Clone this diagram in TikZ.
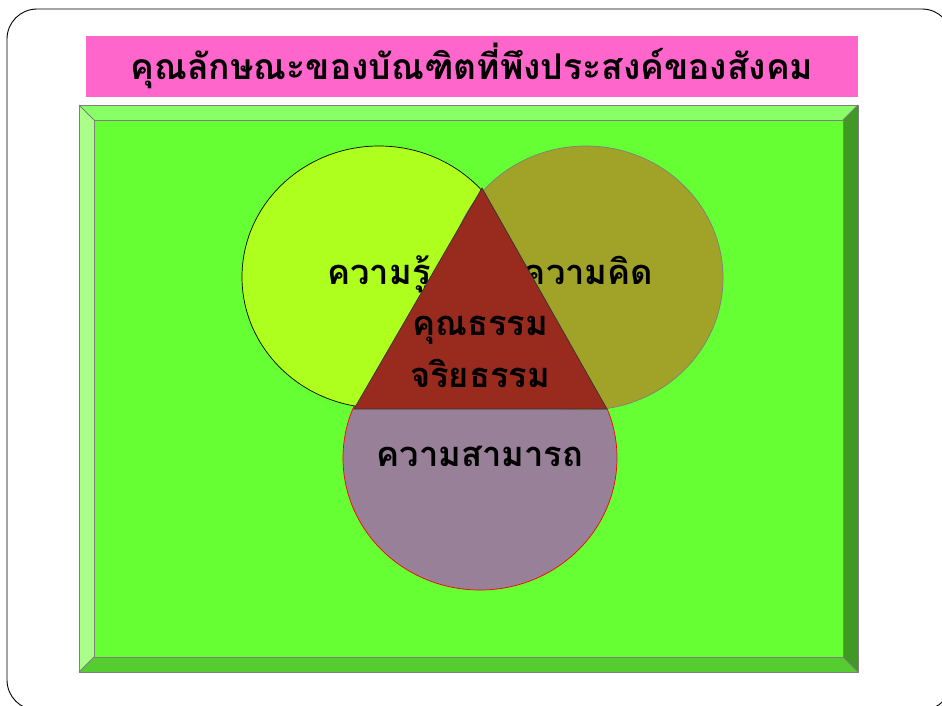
\documentclass[tikz,border=0pt]{standalone}
\usepackage{fontspec}
\newfontfamily\thaifont[Script=Thai]{Loma}
\definecolor{pinkbox}{HTML}{FF66CC}
\definecolor{face}{HTML}{66FF33}
\definecolor{bvtop}{HTML}{88FF66}
\definecolor{bvleft}{HTML}{AAFF88}
\definecolor{bvright}{HTML}{3F9922}
\definecolor{bvbottom}{HTML}{55CC2F}
\definecolor{cleft}{HTML}{AFFF1E}
\definecolor{cright}{HTML}{A0A328}
\definecolor{cbottom}{HTML}{998099}
\definecolor{tri}{HTML}{992B1E}
\definecolor{edgegray}{HTML}{7F7F7F}
\tikzset{
  bevel/.style={draw=edgegray, line width=0.9pt, line join=miter},
  lbl/.style={font=\thaifont\bfseries\fontsize{34.5}{38}\selectfont, text=black, anchor=base, inner sep=0pt},
  ttl/.style={font=\thaifont\bfseries\fontsize{35.5}{38}\selectfont, text=black, anchor=base, inner sep=0pt},
}
\begin{document}
\begin{tikzpicture}[x=1pt,y=-1pt]
\useasboundingbox (0,0) rectangle (942,705);
\begin{scope}
\clip (0,0) rectangle (942,705);
\draw[black, line width=0.9pt, rounded corners=30pt] (7,9) rectangle (952,710);
\end{scope}
% title
\fill[pinkbox] (86,36) rectangle (858,97);
\node[ttl] (title) at (472,79) {คุณลักษณะของบัณฑิตที่พึงประสงค์ของสังคม};
% bevel frame
\coordinate (o1) at (79,105); \coordinate (o2) at (858,105);
\coordinate (o3) at (858,672); \coordinate (o4) at (79,672);
\coordinate (i1) at (94,120); \coordinate (i2) at (843,120);
\coordinate (i3) at (843,657); \coordinate (i4) at (94,657);
\fill[bvtop] (o1) -- (o2) -- (i2) -- (i1) -- cycle;
\fill[bvleft] (o1) -- (i1) -- (i4) -- (o4) -- cycle;
\fill[bvright] (o2) -- (o3) -- (i3) -- (i2) -- cycle;
\fill[bvbottom] (o4) -- (i4) -- (i3) -- (o3) -- cycle;
\fill[face] (i1) rectangle (i3);
\draw[bevel] (o1) rectangle (o3);
\draw[bevel] (i1) rectangle (i3);
\draw[bevel] (o1) -- (i1) (o2) -- (i2) (o3) -- (i3) (o4) -- (i4);
% circles
\draw[red, line width=0.7pt, fill=cbottom] (480,458) ellipse [x radius=137, y radius=132];
\draw[black, line width=0.7pt, fill=cleft] (379,277) ellipse [x radius=137, y radius=131];
\draw[edgegray, line width=0.7pt, fill=cright] (586,278) ellipse [x radius=137, y radius=132];
\node[lbl] (know) at (379,284) {ความรู้};
\node[lbl] (think) at (588,284) {ความคิด};
% triangle
\draw[black!80, line width=0.7pt, fill=tri, line join=miter] (482,188) -- (607,409) -- (354,409) -- cycle;
\node[lbl] (moral) at (480,335) {คุณธรรม};
\node[lbl] (ethic) at (480,387) {จริยธรรม};
\node[lbl] (abil) at (480,466) {ความสามารถ};
\end{tikzpicture}
\end{document}
